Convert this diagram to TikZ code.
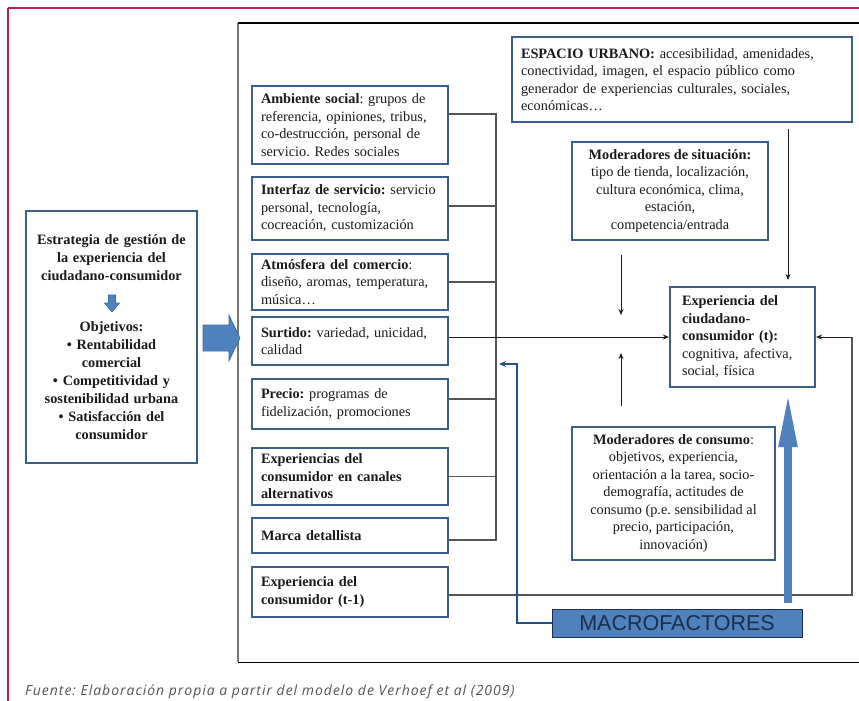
\documentclass[tikz,border=0pt]{standalone}
\usepackage{fontspec}
\setmainfont{Liberation Serif}
\newfontfamily\capfont{Open Sans}[LetterSpace=7]
\newfontfamily\macrofont{Liberation Sans}
\usepackage{xcolor}
\usepackage{tikz}
\usetikzlibrary{positioning,arrows.meta,calc}
\frenchspacing
\definecolor{frame500}{HTML}{C8175D}
\definecolor{box700}{HTML}{3A5F8C}
\definecolor{blue500}{HTML}{4F81BD}
\definecolor{blue700}{HTML}{3B6BA5}
\definecolor{navy800}{HTML}{1B2E4D}
\definecolor{navy600}{HTML}{23508A}
\definecolor{ink900}{HTML}{1A1A1A}
\definecolor{gray600}{HTML}{555555}
\definecolor{gray500}{HTML}{777777}
\tikzset{
  every node/.style={font=\fontsize{14.3}{17.5}\selectfont, text=ink900},
  factor/.style={
    rectangle, draw=box700, line width=2.2pt, fill=white,
    minimum width=196pt, text width=178pt,
    inner xsep=9pt, inner ysep=1pt, align=left
  },
  moder/.style={
    rectangle, draw=box700, line width=2.2pt, fill=white,
    inner sep=1pt, align=center
  },
  strategy/.style={
    rectangle, draw=box700, line width=2.2pt, fill=white,
    minimum width=171pt, minimum height=252pt, text width=165pt,
    inner sep=1pt, align=center,
    font=\bfseries\fontsize{14.3}{18}\selectfont
  },
  macrobox/.style={
    rectangle, draw=navy800, fill=blue500, line width=1pt,
    minimum width=250pt, minimum height=28pt, inner sep=0pt,
    font=\macrofont\fontsize{21.5}{21.5}\selectfont, text=navy800
  },
  blockarrow/.style={fill=blue500, draw=blue700, line width=0.6pt},
  bus/.style={draw=gray600, line width=1.1pt},
  arrow/.style={-{Stealth[length=6pt,width=5pt]}, line width=1pt, draw=ink900},
  uparrow/.style={-{Triangle[length=55pt,width=17pt]}, line width=8pt, draw=blue500},
  macroline/.style={-{Stealth[length=7pt,width=6pt]}, line width=2.8pt, draw=navy600},
  capnode/.style={font=\capfont\itshape\fontsize{14}{16}\selectfont, text=gray600, inner sep=0pt},
}
\begin{document}
\begin{tikzpicture}[x=1pt,y=-1pt]
  \useasboundingbox (0,0) rectangle (859,701);
  \draw[frame500, line width=1.5pt] (8,701) -- (8,8);
  \draw[frame500, line width=1.5pt] (8,8) -- (859,8);
  \draw[gray500, line width=1.5pt] (238,662) -- (238,23);
  \draw[black, line width=1.5pt] (238,23) -- (859,23);
  \draw[black, line width=1pt] (238,662) -- (859,662);

  \node[strategy] (strat) at (111.5,337) {Estrategia de gestión de\\ la experiencia del\\ ciudadano-consumidor\\[33pt] Objetivos:\\ • Rentabilidad\\ comercial\\ • Competitividad y\\ sostenibilidad urbana\\ • Satisfacción del\\ consumidor};
  \filldraw[blockarrow] (108.5,295) -- (115.5,295) -- (115.5,303) -- (119.5,303) -- (112,312) -- (104.5,303) -- (108.5,303) -- cycle;
  \filldraw[blockarrow] (203,325) -- (229,325) -- (229,315) -- (240,338) -- (229,361) -- (229,351) -- (203,351) -- cycle;

  \node[factor, minimum height=78pt] (amb) at (350,125) {\textbf{Ambiente social}: grupos de\\ referencia, opiniones, tribus,\\ co-destrucción, personal de\\ servicio. Redes sociales};
  \node[factor, minimum height=63pt] (intf) at (350,208.5) {\textbf{Interfaz de servicio:} servicio\\ personal, tecnología,\\ cocreación, customización};
  \node[factor, minimum height=56pt] (atm) at (350,282) {\textbf{Atmósfera del comercio}:\\ diseño, aromas, temperatura,\\ música…};
  \node[factor, minimum height=48pt] (surt) at (350,341) {\textbf{Surtido:} variedad, unicidad,\\ calidad};
  \node[factor, minimum height=50pt] (prec) at (350,404) {\textbf{Precio:} programas de\\ fidelización, promociones};
  \node[factor, minimum height=57pt] (canal) at (350,476.5) {\textbf{Experiencias del\\ consumidor en canales\\ alternativos}};
  \node[factor, minimum height=35pt] (marca) at (350,535.5) {\textbf{Marca detallista}};
  \node[factor, minimum height=50pt] (prev) at (350,592) {\textbf{Experiencia del\\ consumidor (t-1)}};

  \node[factor, minimum width=340pt, text width=322pt, minimum height=85pt] (espacio) at (682,79.5) {\textbf{ESPACIO URBANO:} accesibilidad, amenidades,\\ conectividad, imagen, el espacio público como\\ generador de experiencias culturales, sociales,\\ económicas…};
  \node[moder, minimum width=196pt, minimum height=98pt] (situ) at (670,191) {\textbf{Moderadores de situación:}\\ tipo de tienda, localización,\\ cultura económica, clima,\\ estación,\\ competencia/entrada};
  \node[factor, minimum width=145pt, text width=121pt, inner xsep=12pt, minimum height=100pt] (exper) at (742.5,337) {\textbf{Experiencia del\\ ciudadano-\\ consumidor (t):}\\ cognitiva, afectiva,\\ social, física};
  \node[moder, minimum width=203pt, minimum height=133pt] (cons) at (673.5,493.5) {\textbf{Moderadores de consumo}:\\ objetivos, experiencia,\\ orientación a la tarea, socio-\\ demografía, actitudes de\\ consumo (p.e. sensibilidad al\\ precio, participación,\\ innovación)};
  \node[macrobox] (macro) at (677,623) {MACROFACTORES};

  \coordinate (bustop) at (496,114);
  \coordinate (busbot) at (496,540);
  \draw[bus] ([yshift=11pt]amb.east) -- (bustop) -- (busbot) -- ([yshift=-4.5pt]marca.east);
  \foreach \b/\s in {intf/2.5, atm/0, prec/5, canal/0}
    \draw[bus] ([yshift=\s pt]\b.east) -- +(48,0);
  \draw[arrow] ([yshift=4pt]surt.east) -- (exper.west);

  \coordinate (fbcorner) at (852,595);
  \draw[bus] ([yshift=-3pt]prev.east) -- (fbcorner) -- (fbcorner |- exper.east);
  \draw[arrow] (fbcorner |- exper.east) -- (exper.east);

  \coordinate (urbtip) at (788,280);
  \coordinate (situtip) at (621,315);
  \coordinate (constip) at (621,353);
  \draw[arrow] ($(espacio.south -| urbtip)+(0,6)$) -- (urbtip);
  \draw[arrow] ($(situ.south -| situtip)+(0,14)$) -- (situtip);
  \draw[arrow] ($(cons.north -| constip)+(0,-20)$) -- (constip);

  \coordinate (macrotip) at (788,392);
  \draw[uparrow] ($(macro.north -| macrotip)+(0,-6)$) -- (macrotip);
  \coordinate (macrobend) at (517,364);
  \coordinate (busin) at (499,364);
  \draw[macroline] (macro.west) -| (macrobend) -- (busin);

  \node[capnode, anchor=base west] (source) at (25,695) {Fuente: Elaboración propia a partir del modelo de Verhoef et al (2009)};
\end{tikzpicture}
\end{document}
